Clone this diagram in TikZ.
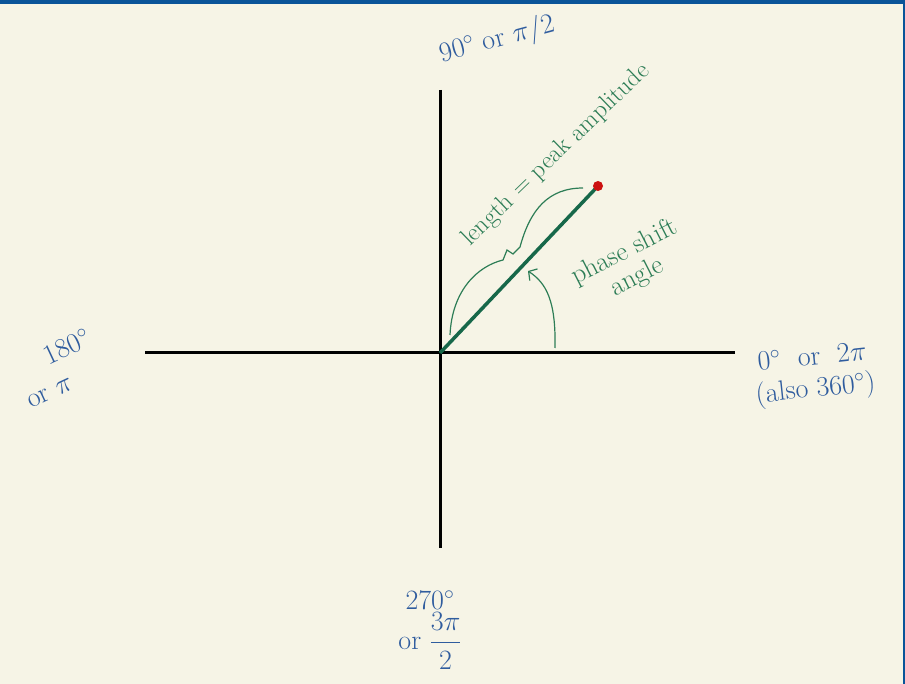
\documentclass[tikz,border=0pt]{standalone}
\usepackage{fix-cm}
\usepackage{amsmath}
\usepackage{fontspec}
\usepackage{tikz}
\usetikzlibrary{arrows.meta}
\usepackage{xcolor}
\definecolor{paper}{HTML}{F6F4E6}
\definecolor{frame}{HTML}{0A5499}
\definecolor{inkblue}{HTML}{2F5C9E}
\definecolor{inkgreen}{HTML}{2D7D56}
\definecolor{phasorgreen}{HTML}{17684A}
\definecolor{dotred}{HTML}{CC1111}

\begin{document}
\begin{tikzpicture}[
    x=1pt, y=-1pt,
    axis/.style={line width=3pt, black},
    phasor/.style={line width=3.5pt, phasorgreen},
    pen/.style={line width=1.2pt, inkgreen},
    hand/.style={font=\fontsize{28}{32}\selectfont, text=inkblue, align=center, inner sep=0pt},
    note/.style={font=\fontsize{25}{27}\selectfont, text=inkgreen, align=center, inner sep=0pt}
]
    \fill[paper] (0,0) rectangle (905,684);
    \fill[frame] (0,0) rectangle (905,4);
    \fill[frame] (903,0) rectangle (905,684);

    \coordinate (O) at (440,353);
    \coordinate (east) at (735,353);
    \coordinate (west) at (145,353);
    \coordinate (north) at (440,90);
    \coordinate (south) at (440,548);
    \coordinate (tip) at (598,186);

    \draw[axis] (west) -- (east);
    \draw[axis] (north) -- (south);
    \draw[phasor] (O) -- (tip);
    \fill[dotred] (tip) circle (5);

    \draw[pen] (450,335) .. controls (452,290) and (478,266) .. (503,260)
        -- (507,250) -- (513,254) -- (520,247)
        .. controls (530,210) and (548,188) .. (583,188);
    \draw[pen, -{Straight Barb[length=6pt, width=14pt]}] (555,348) .. controls (556,300) and (546,283) .. (528,271);

    \node[hand, rotate=15] (north label) at (497,40) {$90^\circ$ or $\pi/2$};
    \node[hand, rotate=25, align=left] (west label) at (58,368) {\hspace*{34pt}$180^\circ$\\or $\pi$};
    \node[hand, rotate=6] (east label) at (814,375) {$0^\circ$ \ or \ $2\pi$\\(also $360^\circ$)};
    \node[hand] (south label) at (430,630) {$270^\circ$\\[2pt]or $\dfrac{3\pi}{2}$};

    \node[note, rotate=44] (length label) at (556,155) {length = peak amplitude};
    \node[note, rotate=27, font=\fontsize{27}{28}\selectfont] (angle label) at (631,265) {phase shift\\angle};
\end{tikzpicture}
\end{document}
